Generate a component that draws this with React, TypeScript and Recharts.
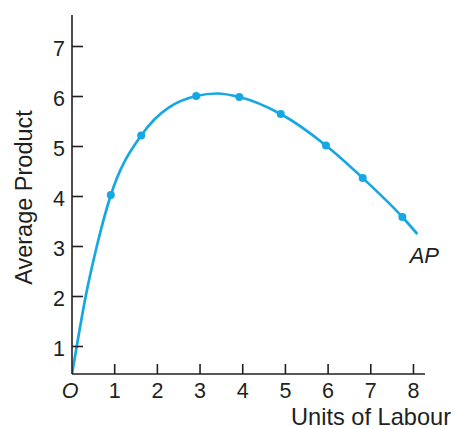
import React from 'react';
import { ComposedChart, Line, Scatter, XAxis, YAxis, ReferenceDot } from 'recharts';

const labourCurve = [0, 0.11, 0.32, 0.58, 0.91, 1.62, 2.91, 3.4, 3.92, 4.89, 5.95, 6.81, 7.74, 8.09];
const apCurve = [0.45, 1, 2, 3, 4.03, 5.22, 6.01, 6.06, 5.99, 5.65, 5.02, 4.37, 3.59, 3.25];
const labourPoints = [0.91, 1.62, 2.91, 3.92, 4.89, 5.95, 6.81, 7.74];
const apPoints = [4.03, 5.22, 6.01, 5.99, 5.65, 5.02, 4.37, 3.59];
const xTicks = [0, 1, 2, 3, 4, 5, 6, 7, 8];
const yTicks = [1, 2, 3, 4, 5, 6, 7];
const xTitle = 'Units of Labour';
const yTitle = 'Average Product';
const curveName = 'AP';

const curveData = labourCurve.map((x, i) => ({ x, y: apCurve[i] }));
const pointData = labourPoints.map((x, i) => ({ x, y: apPoints[i] }));

const BLUE = '#17A8E3';
const INK = '#231F20';
const FONT = '"Liberation Sans", Arial, sans-serif';

const XTick = (props: any) => {
  const { x, y, payload } = props;
  const v = payload.value;
  return (
    <g>
      {v !== 0 && <line x1={x} y1={y} x2={x} y2={y - 10} stroke={INK} strokeWidth={1.6} />}
      <text x={v === 0 ? x - 2 : x} y={y + 24} textAnchor="middle" fontSize={21.5} fill={INK} fontFamily={FONT} fontStyle={v === 0 ? 'italic' : 'normal'}>
        {v === 0 ? 'O' : v}
      </text>
    </g>
  );
};

const YTick = (props: any) => {
  const { x, y, payload } = props;
  return (
    <g>
      <line x1={x} y1={y} x2={x + 11} y2={y} stroke={INK} strokeWidth={1.6} />
      <text x={x - 7} y={y + 9.5} textAnchor="end" fontSize={21.5} fill={INK} fontFamily={FONT}>
        {payload.value}
      </text>
    </g>
  );
};

export default function App() {
  return (
    <div style={{ position: 'absolute', left: 0, top: 0, width: 455, height: 428, background: '#fff' }}>
      <ComposedChart width={455} height={428} margin={{ top: 15, right: 30, bottom: 0, left: 0 }}>
        <XAxis
          type="number"
          dataKey="x"
          domain={[0, 8.27]}
          ticks={xTicks}
          allowDataOverflow
          height={54}
          tickSize={0}
          tickMargin={0}
          tickLine={false}
          tick={<XTick />}
          interval={0}
          axisLine={{ stroke: INK, strokeWidth: 1.6 }}
          label={{
            content: (p: any) => (
              <text x={p.viewBox.x + p.viewBox.width + 26} y={p.viewBox.y + 51} textAnchor="end" fontSize={23.6} fill={INK} fontFamily={FONT}>
                {xTitle}
              </text>
            ),
          }}
        />
        <YAxis
          type="number"
          dataKey="y"
          domain={[0.45, 7.63]}
          ticks={yTicks}
          allowDataOverflow
          width={72}
          tickSize={0}
          tickMargin={0}
          tickLine={false}
          tick={<YTick />}
          interval={0}
          axisLine={{ stroke: INK, strokeWidth: 1.6 }}
          label={{
            content: (p: any) => {
              const cx = 32;
              const cy = p.viewBox.y + p.viewBox.height / 2 + 3;
              return (
                <text x={cx} y={cy} transform={`rotate(-90, ${cx}, ${cy})`} textAnchor="middle" fontSize={23.5} fill={INK} fontFamily={FONT}>
                  {yTitle}
                </text>
              );
            },
          }}
        />
        <Line
          data={curveData}
          dataKey="y"
          type="monotone"
          stroke={BLUE}
          strokeWidth={2.7}
          dot={false}
          activeDot={false}
          isAnimationActive={false}
        />
        <Scatter data={pointData} dataKey="y" fill={BLUE} shape={(p: any) => <circle cx={p.cx} cy={p.cy} r={4} fill={BLUE} />} isAnimationActive={false} />
        <ReferenceDot
          x={labourCurve[labourCurve.length - 1]}
          y={apCurve[apCurve.length - 1]}
          r={0}
          stroke="none"
          fill="none"
          label={{
            content: (p: any) => (
              <text x={p.viewBox.x + 7} y={p.viewBox.y + 29} textAnchor="middle" fontSize={22} fontStyle="italic" fill={INK} fontFamily={FONT}>
                {curveName}
              </text>
            ),
          }}
        />
      </ComposedChart>
    </div>
  );
}
